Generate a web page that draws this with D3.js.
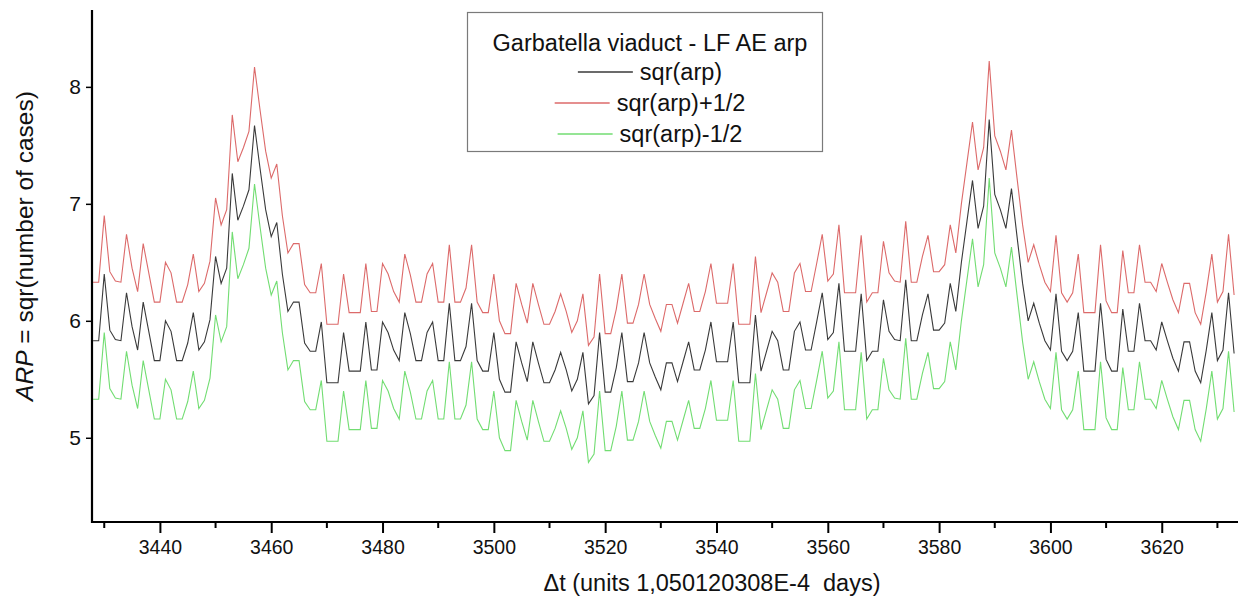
<!DOCTYPE html>
<html>
<head>
<meta charset="utf-8">
<script src="https://cdn.jsdelivr.net/npm/d3@7"></script>
<style>
  body { margin: 0; background: #fff; }
  text { font-family: "Liberation Sans", Arial, sans-serif; fill: #111; }
</style>
</head>
<body>
<div id="container"></div>
<script>
// sqr(arp), one value per time step starting at 3428
const tStart = 3428;
const arp = [
  5.83, 5.83, 6.40, 5.92, 5.84, 5.83, 6.24, 5.95, 5.75, 6.16, // 3428
  5.91, 5.66, 5.66, 6.00, 5.91, 5.66, 5.66, 5.81, 6.07, 5.75, // 3438
  5.82, 6.01, 6.55, 6.32, 6.45, 7.26, 6.86, 6.98, 7.12, 7.67, // 3448
  7.30, 6.95, 6.72, 6.84, 6.40, 6.08, 6.16, 6.16, 5.81, 5.74, // 3458
  5.74, 5.99, 5.47, 5.47, 5.47, 5.90, 5.57, 5.57, 5.57, 5.99, // 3468
  5.58, 5.58, 5.99, 5.90, 5.75, 5.66, 6.07, 5.89, 5.66, 5.66, // 3478
  5.90, 5.99, 5.66, 5.66, 6.15, 5.66, 5.66, 5.78, 6.15, 5.66, // 3488
  5.57, 5.57, 5.90, 5.50, 5.39, 5.39, 5.82, 5.64, 5.48, 5.82, // 3498
  5.64, 5.47, 5.47, 5.58, 5.73, 5.58, 5.40, 5.50, 5.73, 5.29, // 3508
  5.36, 5.90, 5.39, 5.39, 5.60, 5.90, 5.48, 5.48, 5.64, 5.90, // 3518
  5.64, 5.52, 5.41, 5.64, 5.64, 5.48, 5.65, 5.82, 5.58, 5.58, // 3528
  5.75, 5.99, 5.65, 5.65, 5.65, 5.99, 5.47, 5.47, 5.47, 6.05, // 3538
  5.57, 5.74, 5.91, 5.83, 5.58, 5.58, 5.91, 5.99, 5.75, 5.75, // 3548
  5.99, 6.24, 5.84, 5.90, 6.32, 5.74, 5.74, 5.74, 6.23, 5.66, // 3558
  5.74, 5.74, 6.18, 5.91, 5.84, 5.83, 6.35, 5.83, 5.83, 6.05, // 3568
  6.23, 5.92, 5.92, 5.98, 6.32, 6.08, 6.50, 6.85, 7.20, 6.79, // 3578
  6.98, 7.72, 7.08, 6.95, 6.79, 7.13, 6.72, 6.32, 6.00, 6.15, // 3588
  5.98, 5.83, 5.75, 6.23, 5.74, 5.66, 5.74, 6.07, 5.57, 5.57, // 3598
  5.57, 6.15, 5.67, 5.57, 5.57, 6.10, 5.74, 5.74, 6.15, 5.83, // 3608
  5.83, 5.75, 5.99, 5.83, 5.68, 5.57, 5.82, 5.82, 5.57, 5.47, // 3618
  5.75, 6.07, 5.66, 5.75, 6.24, 5.72                          // 3628
];

const seriesNames = ["sqr(arp)", "sqr(arp)+1/2", "sqr(arp)-1/2"];
const seriesOffsets = [0, 0.5, -0.5];
const seriesColors = ["#3a3a3a", "#dc6a6a", "#72dd72"];

const xMajorTicks = [3440, 3460, 3480, 3500, 3520, 3540, 3560, 3580, 3600, 3620];
const xMinorTicks = [3430, 3450, 3470, 3490, 3510, 3530, 3550, 3570, 3590, 3610, 3630];
const yTicks = [5, 6, 7, 8];

const legendTitle = "Garbatella viaduct - LF AE arp";

const width = 1241, height = 600;
const svg = d3.select("#container").append("svg")
  .attr("width", width)
  .attr("height", height);

const xScale = d3.scaleLinear().domain([3427.8, 3633.7]).range([92, 1238]);
const yScale = d3.scaleLinear().domain([4.28, 8.64]).range([522, 12]);

// lines
const line = d3.line()
  .x((d) => xScale(d.t))
  .y((d) => yScale(d.v));

seriesNames.forEach(function (name, k) {
  let pts = arp.map((v, i) => ({ t: tStart + i, v: v + seriesOffsets[k] }));
  svg.append("path")
    .datum(pts)
    .attr("fill", "none")
    .attr("stroke", seriesColors[k])
    .attr("stroke-width", 1.1)
    .attr("d", line);
});

// x axis
let xAxis = d3.axisBottom(xScale)
  .tickValues(xMajorTicks)
  .tickFormat(d3.format("d"))
  .tickSize(11)
  .tickPadding(7);

let xAxisG = svg.append("g")
  .attr("transform", "translate(0,522)")
  .call(xAxis);

xAxisG.select(".domain").remove();
xAxisG.selectAll(".tick line").attr("stroke", "#000").attr("stroke-width", 2);
xAxisG.selectAll(".tick text").style("font-size", "19.5px").attr("fill", "#111");

xAxisG.selectAll(".minor")
  .data(xMinorTicks)
  .enter()
  .append("line")
  .attr("class", "minor")
  .attr("x1", (d) => xScale(d))
  .attr("x2", (d) => xScale(d))
  .attr("y1", 0)
  .attr("y2", 6)
  .attr("stroke", "#000")
  .attr("stroke-width", 2);

// y axis
let yAxis = d3.axisLeft(yScale)
  .tickValues(yTicks)
  .tickFormat(d3.format("d"))
  .tickSize(6)
  .tickPadding(5);

let yAxisG = svg.append("g")
  .attr("transform", "translate(92,0)")
  .call(yAxis);

yAxisG.select(".domain").remove();
yAxisG.selectAll(".tick line").attr("stroke", "#000").attr("stroke-width", 1.5);
yAxisG.selectAll(".tick text").style("font-size", "21px").attr("fill", "#111");

// axis lines drawn as one L shape
svg.append("path")
  .attr("d", "M92,10V522H1238")
  .attr("fill", "none")
  .attr("stroke", "#000")
  .attr("stroke-width", 2.2);

// axis titles
svg.append("text")
  .attr("x", 712)
  .attr("y", 591)
  .attr("text-anchor", "middle")
  .style("font-size", "23.5px")
  .style("white-space", "pre")
  .text("\u0394t (units 1,050120308E-4  days)");

let yLab = svg.append("text")
  .attr("transform", "translate(33,246) rotate(-90)")
  .attr("text-anchor", "middle")
  .style("font-size", "24.5px");
yLab.append("tspan").style("font-style", "italic").text("ARP");
yLab.append("tspan").text(" = sqr(number of cases)");

// legend
let legend = svg.append("g").attr("id", "legend");
legend.append("rect")
  .attr("x", 467.5)
  .attr("y", 12.5)
  .attr("width", 355)
  .attr("height", 139)
  .attr("fill", "#fff")
  .attr("stroke", "#7a7a7a")
  .attr("stroke-width", 1.2);

legend.append("text")
  .attr("x", 650)
  .attr("y", 51)
  .attr("text-anchor", "middle")
  .style("font-size", "23.5px")
  .text(legendTitle);

seriesNames.forEach(function (name, k) {
  let row = legend.append("g");
  let cy = 72 + k * 31;
  let label = row.append("text")
    .attr("y", cy + 8)
    .style("font-size", "23.5px")
    .text(name);
  let tw = label.node().getComputedTextLength();
  let total = 55 + 7 + tw;
  let x0 = 650 - total / 2;
  row.append("line")
    .attr("x1", x0)
    .attr("x2", x0 + 55)
    .attr("y1", cy)
    .attr("y2", cy)
    .attr("stroke", seriesColors[k])
    .attr("stroke-width", 1.3);
  label.attr("x", x0 + 62);
});
</script>
</body>
</html>
